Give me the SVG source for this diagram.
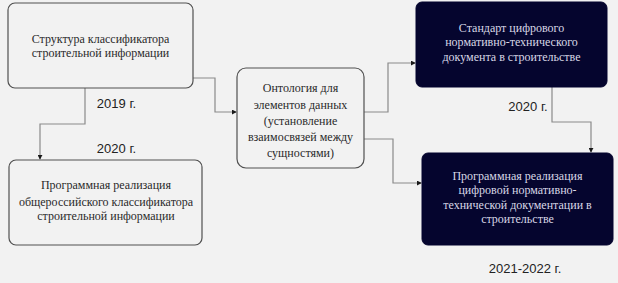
<svg xmlns="http://www.w3.org/2000/svg" width="618" height="283" viewBox="0 0 618 283">
<style>
.lb{fill:#f2f2f2;stroke:#505050;stroke-width:1.2}
.db{fill:#05052e;stroke:#05052e;stroke-width:1}
.t{font-family:'Liberation Serif','DejaVu Serif',serif;font-size:12px;text-anchor:middle;fill:#2a2a2a}
.tw{font-family:'Liberation Serif','DejaVu Serif',serif;font-size:12px;text-anchor:middle;fill:#d8d8e6}
.y{font-family:'Liberation Sans',Arial,sans-serif;font-size:13px;text-anchor:middle;fill:#222}
.c{fill:none;stroke:#8a8a8a;stroke-width:1.2}
</style>
<defs>
<marker id="a" viewBox="0 0 6 6" refX="5" refY="3" markerWidth="5" markerHeight="5" orient="auto" markerUnits="userSpaceOnUse">
<path d="M0,0 L6,3 L0,6 Z" fill="#1a1a1a"/>
</marker>
</defs>
<rect width="618" height="283" fill="#f2f2f2"/>
<g id="connectors">
<path class="c" d="M85,88 V124 H40 V159" marker-end="url(#a)"/>
<path class="c" d="M193,78 H215 V112 H236" marker-end="url(#a)"/>
<path class="c" d="M364,112 H388 V63 H415" marker-end="url(#a)"/>
<path class="c" d="M364,139 H393 V183 H421" marker-end="url(#a)"/>
<path class="c" d="M552,87 V122 H591 V152" marker-end="url(#a)"/>
</g>
<g id="n1">
<rect class="lb" x="8" y="3" width="185" height="85" rx="7"/>
<text class="t" x="100.5" y="43">Структура классификатора</text>
<text class="t" x="100.5" y="57">строительной информации</text>
</g>
<g id="n2">
<rect class="lb" x="9" y="160" width="193" height="85" rx="7"/>
<text class="t" x="106" y="189" font-size="12.5">Программная реализация</text>
<text class="t" x="106" y="206" font-size="12.5">общероссийского классификатора</text>
<text class="t" x="106" y="220" font-size="12.5">строительной информации</text>
</g>
<g id="n3">
<rect class="lb" x="237" y="68" width="127" height="100" rx="9"/>
<text class="t" x="300.5" y="92">Онтология для</text>
<text class="t" x="300.5" y="109">элементов данных</text>
<text class="t" x="300.5" y="125">(установление</text>
<text class="t" x="300.5" y="141">взаимосвязей между</text>
<text class="t" x="300.5" y="157">сущностями)</text>
</g>
<g id="n4">
<rect class="db" x="416" y="2" width="191" height="85" rx="6"/>
<text class="tw" x="511.5" y="32">Стандарт цифрового</text>
<text class="tw" x="511.5" y="46">нормативно-технического</text>
<text class="tw" x="511.5" y="61">документа в строительстве</text>
</g>
<g id="n5">
<rect class="db" x="422" y="153" width="191" height="92" rx="6"/>
<text class="tw" x="517.5" y="180">Программная реализация</text>
<text class="tw" x="517.5" y="194">цифровой нормативно-</text>
<text class="tw" x="517.5" y="209">технической документации в</text>
<text class="tw" x="517.5" y="223">строительстве</text>
</g>
<g id="labels">
<text class="y" x="116.5" y="108">2019 г.</text>
<text class="y" x="116.5" y="153">2020 г.</text>
<text class="y" x="528" y="111">2020 г.</text>
<text class="y" x="525" y="273">2021-2022 г.</text>
</g>
</svg>
